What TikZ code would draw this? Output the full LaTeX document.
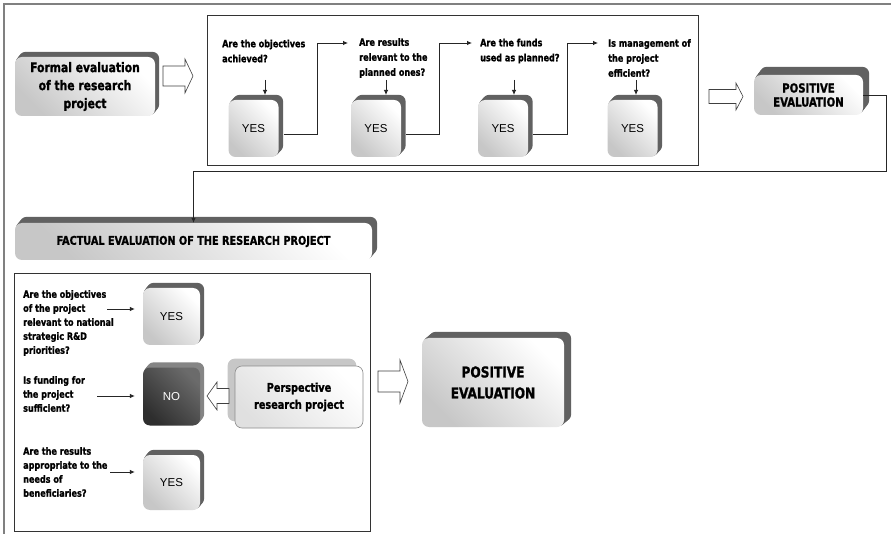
\documentclass[tikz,border=0pt]{standalone}
\usepackage{fontspec}
\setmainfont{Liberation Sans}
\newfontfamily\cf{DejaVu Sans Condensed}[FakeStretch=0.9, FakeBold=1.2]
\usetikzlibrary{backgrounds,calc,arrows.meta}

\newcommand\extr[4]{%
  \begin{scope}[on background layer]
    \foreach \k in {0.2,0.4,0.6,0.8,1}{%
      \fill[#4, rounded corners=7pt] ([xshift=\k*#2, yshift=\k*#3]#1.south west) rectangle ([xshift=\k*#2, yshift=\k*#3]#1.north east);}
  \end{scope}}

\tikzset{
  face/.style={rounded corners=7pt, shade, left color=black!22, right color=white, shading angle=135,
    inner sep=0pt, align=center},
  darkface/.style={rounded corners=7pt, shade, left color=black!82, right color=black!58, shading angle=135,
    inner sep=0pt, align=center, text=white},
  yesbox/.style={face, minimum width=50pt, minimum height=57pt, font=\fontsize{11.5}{13}\selectfont},
  yesboxb/.style={face, minimum width=57pt, font=\fontsize{11.5}{13}\selectfont},
  title/.style={font=\cf\bfseries\fontsize{13.3}{18}\selectfont},
  titles/.style={font=\cf\bfseries\fontsize{12.5}{14}\selectfont},
  qt/.style={font=\cf\bfseries\fontsize{10}{15}\selectfont, align=left, anchor=west, inner sep=0pt},
  qb/.style={font=\cf\bfseries\fontsize{10}{14}\selectfont, align=left, anchor=west, inner sep=0pt},
  framebox/.style={draw=black!80, line width=0.8pt, inner sep=0pt},
  conn/.style={draw=black!85, line width=0.8pt, -{Latex[length=5pt,width=4.5pt]}},
  barrow/.style={draw=black!75, line width=0.6pt, fill=white},
  extfill/.style={fill=black!62},
  extlight/.style={fill=black!48},
}

\begin{document}
\begin{tikzpicture}[x=1pt, y=-1pt]
\begin{scope}[on background layer]
  \fill[white] (0,0) rectangle (891,534);
\end{scope}
\useasboundingbox (0,0) rectangle (891,534);

% outer frame
\draw[black!50, line width=2pt] (891,4) -- (4,4) -- (4,534);

% ---------- formal evaluation row ----------
\node[face, title, minimum width=140pt, minimum height=59pt] (formal) at (85,86.5)
  {Formal evaluation\\of the research\\project};
\extr{formal}{4pt}{5pt}{extfill}

\draw[barrow] (163,66) -- (185,66) -- (185,59) -- (193,76) -- (185,93) -- (185,86) -- (163,86) -- cycle;

\node[framebox, minimum width=491pt, minimum height=150pt] (topbox) at (452.5,90) {};

\node[yesbox] (yes1) at (253.5,128.5) {YES};
\node[yesbox] (yes2) at (376,128.5) {YES};
\node[yesbox] (yes3) at (503,128.5) {YES};
\node[yesbox] (yes4) at (632.5,128.5) {YES};
\extr{yes1}{4.5pt}{5pt}{extfill}
\extr{yes2}{4.5pt}{5pt}{extfill}
\extr{yes3}{4.5pt}{5pt}{extfill}
\extr{yes4}{4.5pt}{5pt}{extfill}

\node[qt] (q1) at (222,51) {Are the objectives\\achieved?};
\node[qt] (q2) at (359,58) {Are results\\relevant to the\\planned ones?};
\node[qt] (q3) at (480,51) {Are the funds\\used as planned?};
\node[qt] (q4) at (608,58) {Is management of\\the project\\efficient?};

\coordinate (d1) at (265,80);
\coordinate (d2) at (386,80);
\coordinate (d3) at (514,80);
\coordinate (d4) at (636,80);
\draw[conn] (d1) -- (d1 |- 0,95);
\draw[conn] (d2) -- (d2 |- 0,95);
\draw[conn] (d3) -- (d3 |- 0,95);
\draw[conn] (d4) -- (d4 |- 0,95);

\coordinate (t2) at (348,43);
\coordinate (t3) at (472,43);
\coordinate (t4) at (598,43);
\draw[conn] ($(yes1.east)+(5,6)$) -| (317,43) -- (t2);
\draw[conn] ($(yes2.east)+(5,6)$) -| (439,43) -- (t3);
\draw[conn] ($(yes3.east)+(5,6)$) -| (567,43) -- (t4);

\draw[barrow] (709,89.5) -- (736,89.5) -- (736,83) -- (743,96.5) -- (736,110) -- (736,103.5) -- (709,103.5) -- cycle;

\node[face, titles, minimum width=109pt, minimum height=40pt] (pos1) at (808.5,95) {POSITIVE\\EVALUATION};
\extr{pos1}{6pt}{8pt}{extfill}

% ---------- factual evaluation ----------
\node[face, font=\cf\bfseries\fontsize{12}{14}\selectfont, minimum width=357pt, minimum height=37pt] (factual) at (193.5,241.5)
  {FACTUAL EVALUATION OF THE RESEARCH PROJECT};
\extr{factual}{5pt}{6pt}{extfill}

\draw[conn] (pos1.east) -- (886,95) -- (886,171) -| (factual.north);

\node[framebox, minimum width=356pt, minimum height=258pt] (botbox) at (192,402) {};

\node[yesboxb, minimum height=57pt] (yesA) at (171.5,316.5) {YES};
\node[darkface, minimum width=57pt, minimum height=58pt, font=\fontsize{11.5}{13}\selectfont] (no) at (171.5,396.5) {NO};
\node[yesboxb, minimum height=55pt] (yesC) at (171.5,482.5) {YES};
\extr{yesA}{4pt}{5pt}{extfill}
\extr{no}{4pt}{5pt}{extlight}
\extr{yesC}{4pt}{5pt}{extfill}

\node[qb] (qa) at (23,323) {Are the objectives\\of the project\\relevant to national\\strategic R\&D\\priorities?};
\node[qb] (qbb) at (23,394) {Is funding for\\the project\\sufficient?};
\node[qb] (qc) at (23,472) {Are the results\\appropriate to the\\needs of\\beneficiaries?};

\coordinate (sa) at (107,309);
\coordinate (sb) at (97,396);
\coordinate (sc) at (110,472);
\draw[conn] (sa) -- ($(yesA.west |- sa)+(-8,0)$);
\draw[conn] (sb) -- ($(no.west |- sb)+(-8,0)$);
\draw[conn] (sc) -- ($(yesC.west |- sc)+(-8,0)$);

% perspective research project
\node[rounded corners=7pt, draw=black!45, line width=0.6pt, shade, left color=black!12, right color=white,
  shading angle=135, minimum width=128pt, minimum height=62pt, inner sep=0pt, align=center,
  font=\cf\bfseries\fontsize{12}{17}\selectfont] (persp) at (299,397) {Perspective\\research project};
\begin{scope}[on background layer]
  \fill[black!22, rounded corners=7pt] ([shift={(-7,-7)}]persp.south west) rectangle ([shift={(-7,-7)}]persp.north east);
\end{scope}

\draw[barrow] (229,388.5) -- (217,388.5) -- (217,382) -- (207,396) -- (217,410) -- (217,403.5) -- (229,403.5) -- cycle;

\draw[barrow] (378,371) -- (400,371) -- (400,360) -- (408,381.5) -- (400,403) -- (400,392) -- (378,392) -- cycle;

\node[face, font=\cf\bfseries\fontsize{15}{21}\selectfont, minimum width=142pt, minimum height=89pt] (pos2) at (493,382.5)
  {POSITIVE\\EVALUATION};
\extr{pos2}{7pt}{6pt}{extfill}
\end{tikzpicture}
\end{document}
